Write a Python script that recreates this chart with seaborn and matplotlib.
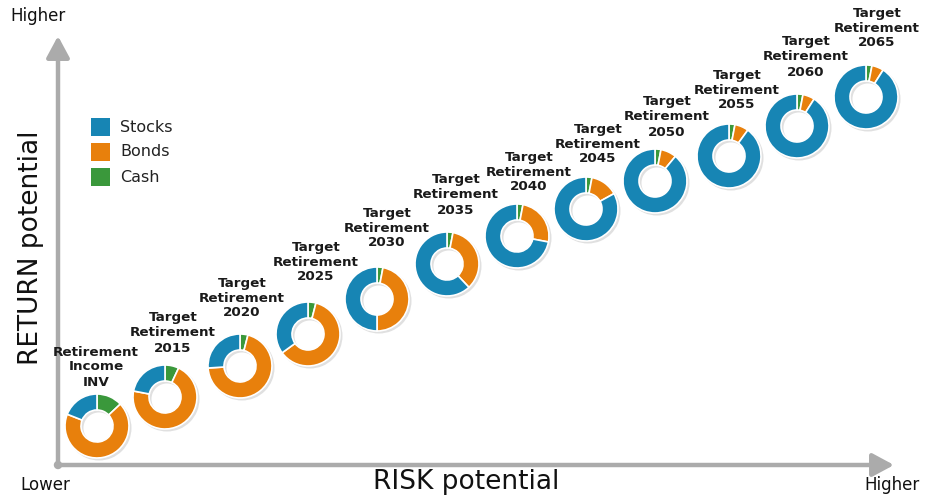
import matplotlib
matplotlib.use("Agg")
import matplotlib.pyplot as plt
from matplotlib.patches import FancyArrowPatch, Circle, Rectangle, Wedge
import seaborn as sns

# ---------------- data ----------------
funds = ["Retirement\nIncome\nINV", "Target\nRetirement\n2015", "Target\nRetirement\n2020",
         "Target\nRetirement\n2025", "Target\nRetirement\n2030", "Target\nRetirement\n2035",
         "Target\nRetirement\n2040", "Target\nRetirement\n2045", "Target\nRetirement\n2050",
         "Target\nRetirement\n2055", "Target\nRetirement\n2060", "Target\nRetirement\n2065"]
stocks = [19, 22, 26, 35, 50, 62, 72, 83, 89, 90, 91, 91]
bonds = [68, 71, 70, 61, 47, 35, 25, 14, 8, 7, 6, 6]
cash = [13, 7, 4, 4, 3, 3, 3, 3, 3, 3, 3, 3]
asset_classes = ["Stocks", "Bonds", "Cash"]

# ---------------- layout (pixel coordinates, y from top) ----------------
W, H = 925, 500
donut_centers = [(97, 426), (165, 397), (240, 366), (308, 334), (377, 299), (447, 264),
                 (517, 236), (586, 209), (655, 181), (729, 156), (797, 126), (866, 97)]
label_centers = [(96, 367), (173, 333), (242, 298), (316, 262), (387, 228), (456, 195),
                 (529, 172), (598, 144), (667, 117), (737, 90), (806, 57), (877, 28)]
R_OUT, RING = 32, 16

sns.set_theme(style="white")
plt.rcParams["font.family"] = ["DejaVu Sans"]
colors = {"Stocks": "#1785b4", "Bonds": "#e8800c", "Cash": "#3a983b"}

fig = plt.figure(figsize=(W / 100, H / 100), dpi=100)
ax = fig.add_axes([0, 0, 1, 1])


def Y(y):
    return H - y


# donuts
for i, name in enumerate(funds):
    cx, cy = donut_centers[i]
    # soft shadow
    ax.add_patch(Wedge((cx + 2, Y(cy) - 2), R_OUT + 0.5, 0, 360, width=RING + 1,
                       facecolor="#bbbbbb", edgecolor="none", alpha=0.45, zorder=1))
    vals = [cash[i], bonds[i], stocks[i]]
    cols = [colors["Cash"], colors["Bonds"], colors["Stocks"]]
    ax.pie(vals, colors=cols, startangle=90, counterclock=False,
           center=(cx, Y(cy)), radius=R_OUT,
           wedgeprops=dict(width=RING, edgecolor="white", linewidth=1.2, zorder=2))
    lx, ly = label_centers[i]
    ax.text(lx, Y(ly), name, ha="center", va="center", fontsize=9.7, fontweight="bold",
            color="#1a1a1a", linespacing=1.2, zorder=3)

# axes arrows
gray = "#ababab"
ax.add_patch(FancyArrowPatch((58, Y(465)), (58, Y(36)),
                             arrowstyle="-|>,head_width=0.7,head_length=1.3",
                             mutation_scale=10, lw=3.2, color=gray, shrinkA=0, shrinkB=0, zorder=0))
ax.add_patch(FancyArrowPatch((58, Y(465)), (894, Y(465)),
                             arrowstyle="-|>,head_width=0.7,head_length=1.3",
                             mutation_scale=10, lw=3.2, color=gray, shrinkA=0, shrinkB=0, zorder=0))
ax.add_patch(Circle((58, Y(465)), 3.5, color=gray, zorder=0))

# axis texts
ax.text(10, Y(16), "Higher", ha="left", va="center", fontsize=12, color="#111111")
ax.text(20, Y(485), "Lower", ha="left", va="center", fontsize=12, color="#111111")
ax.text(920, Y(485), "Higher", ha="right", va="center", fontsize=12, color="#111111")
ax.text(466, Y(482), "RISK potential", ha="center", va="center", fontsize=19, color="#111111")
ax.text(31, Y(248), "RETURN potential", ha="center", va="center", rotation=90,
        fontsize=19, color="#111111")

# legend
for j, name in enumerate(asset_classes):
    ly = 127 + j * 25
    ax.add_patch(Rectangle((91, Y(ly) - 9), 19, 18, facecolor=colors[name],
                           edgecolor="none", zorder=3))
    ax.text(120, Y(ly), name, ha="left", va="center", fontsize=11.5, color="#222222")

ax.set_xlim(0, W)
ax.set_ylim(0, H)
ax.set_aspect("equal")
ax.set_axis_off()
fig.savefig("out.png", dpi=100)
